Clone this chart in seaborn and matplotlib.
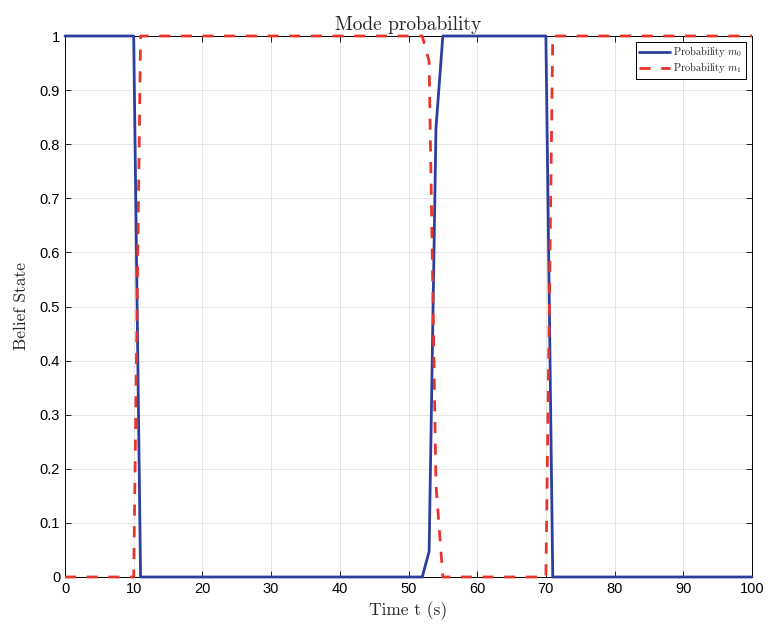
import matplotlib
matplotlib.use("Agg")
import matplotlib.pyplot as plt
import seaborn as sns
import pandas as pd

# breakpoints of the belief trajectories
time_s = [0, 10, 11, 52, 53, 54, 55, 70, 71, 100]
prob_m0 = [1, 1, 0, 0, 0.047, 0.83, 1, 1, 0, 0]
prob_m1 = [0, 0, 1, 1, 0.953, 0.17, 0, 0, 1, 1]
series_names = [r"Probability $m_0$", r"Probability $m_1$"]
x_ticks = [0, 10, 20, 30, 40, 50, 60, 70, 80, 90, 100]
y_ticks = [0, 0.1, 0.2, 0.3, 0.4, 0.5, 0.6, 0.7, 0.8, 0.9, 1]
y_tick_labels = ["0", "0.1", "0.2", "0.3", "0.4", "0.5", "0.6", "0.7", "0.8", "0.9", "1"]

sns.set_style("white")
plt.rcParams["font.family"] = ["Liberation Sans", "DejaVu Sans"]
plt.rcParams["mathtext.fontset"] = "cm"

df = pd.concat([
    pd.DataFrame({"t": time_s, "p": prob_m0, "s": series_names[0]}),
    pd.DataFrame({"t": time_s, "p": prob_m1, "s": series_names[1]}),
])

fig = plt.figure(figsize=(7.68, 6.28), dpi=100)
ax = fig.add_axes([65/768, 1-577/628, (752-65)/768, (577-36)/628])

palette = {series_names[0]: "#2d3f9e", series_names[1]: "#e8352b"}
sns.lineplot(data=df, x="t", y="p", hue="s", style="s", palette=palette,
             dashes={series_names[0]: "", series_names[1]: (4, 3.8)},
             linewidth=2.0, ax=ax, legend=True)
for ln in ax.get_lines():
    ln.set_clip_on(False)
    ln.set_zorder(3)

ax.set_xlim(0, 100)
ax.set_ylim(0, 1)
ax.set_xticks(x_ticks)
ax.set_yticks(y_ticks)
ax.set_yticklabels(y_tick_labels)
ax.tick_params(direction="in", length=4, width=0.6, labelsize=10.5, colors="black",
               top=True, right=True, bottom=True, left=True)
ax.grid(True, color="#e6e6e6", linewidth=0.7)
ax.set_axisbelow(True)
for sp in ax.spines.values():
    sp.set_visible(True)
    sp.set_color("black")
    sp.set_linewidth(0.7)
    sp.set_zorder(2.5)

ax.set_title("Mode probability", family="cmr10", fontsize=14, pad=4)
ax.set_xlabel("Time t (s)", family="cmr10", fontsize=12.5, labelpad=4)
ax.set_ylabel("Belief State", family="cmr10", fontsize=12.5, labelpad=8)

leg = ax.legend(loc="upper right", frameon=True, fancybox=False,
                edgecolor="black", framealpha=1, borderpad=0.3, handlelength=3.0,
                handletextpad=0.3, labelspacing=0.2, borderaxespad=0.6,
                prop={"family": "cmr10", "size": 7.5})
leg.get_frame().set_linewidth(0.7)
leg.set_zorder(5)

fig.savefig("out.png", dpi=100)
